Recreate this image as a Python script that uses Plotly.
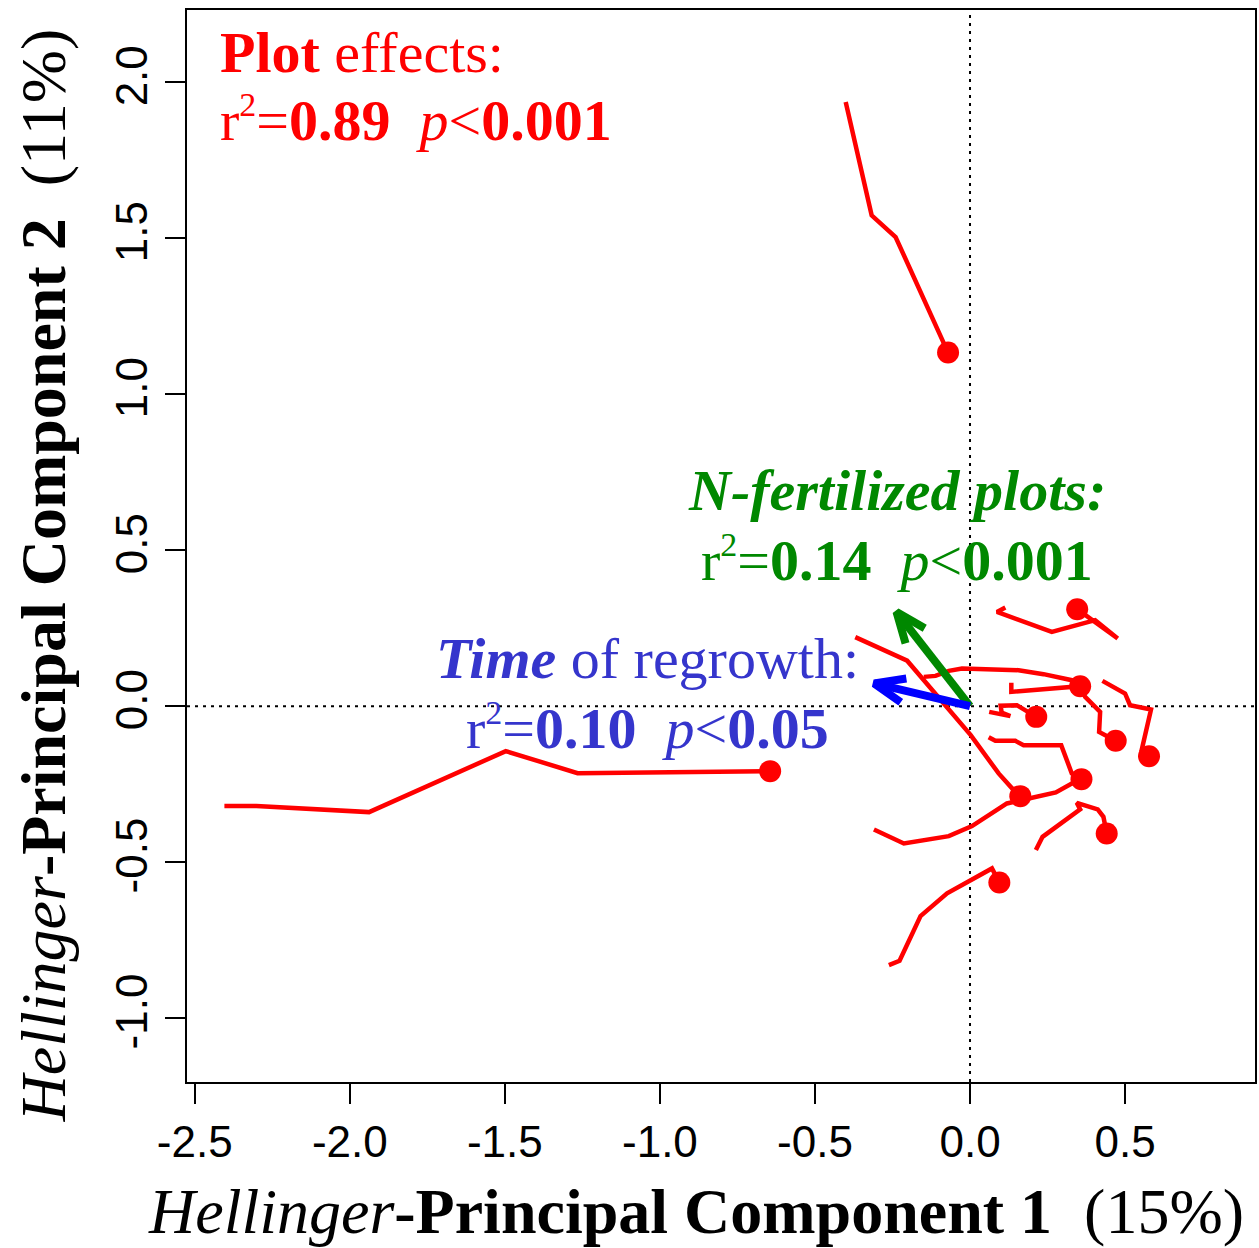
import numpy as np
import plotly.graph_objects as go

# ---- trajectories of plots in PCA space (Hellinger PC1, PC2) ----
plot1_x = [-0.0708, -0.2400, -0.3172, -0.4009]
plot1_y = [1.1337, 1.5042, 1.5737, 1.9369]

plot2_x = [-0.6445, -1.2655, -1.4971, -1.9379, -2.3015, -2.4044]
plot2_y = [-0.2083, -0.2147, -0.1442, -0.3397, -0.3205, -0.3205]

plot3_x = [0.3456, 0.4762, 0.4035, 0.2638, 0.0869, 0.1139]
plot3_y = [0.3109, 0.2170, 0.2756, 0.2381, 0.3022, 0.3163]

plot4_x = [0.3552, 0.3282, 0.2371, 0.1567, -0.0257, -0.0685, -0.1113, -0.1490]
plot4_y = [0.0641, 0.0833, 0.1026, 0.1154, 0.1208, 0.1131, 0.0971, 0.0939]

plot5_x = [0.4698, 0.4408, 0.4163, 0.4196, 0.3713, 0.3552, 0.1332, 0.1332]
plot5_y = [-0.1112, -0.0962, -0.0824, -0.0183, 0.0298, 0.0641, 0.0458, 0.0747]

plot6_x = [0.2136, 0.1512, 0.0988, 0.1020, 0.1300, 0.0618]
plot6_y = [-0.0343, 0.0032, 0.0016, -0.0208, -0.0321, -0.0183]

plot7_x = [0.5772, 0.5534, 0.5837, 0.5161, 0.5000, 0.4270]
plot7_y = [-0.1603, -0.1410, -0.0106, 0.0032, 0.0407, 0.0811]

plot8_x = [0.3594, 0.3282, 0.2941, 0.1728, 0.1461, 0.0817, 0.0602]
plot8_y = [-0.2340, -0.2157, -0.1250, -0.1250, -0.1112, -0.1112, -0.0994]

plot9_x = [0.1622, 0.1406, 0.0923, 0.0023, -0.2027, -0.3700]
plot9_y = [-0.2885, -0.2692, -0.2157, -0.0929, 0.1458, 0.2212]

plot10_x = [0.3594, 0.3282, 0.2767, 0.1889, 0.1190, 0.0064, -0.0685, -0.2133, -0.3098]
plot10_y = [-0.2340, -0.2478, -0.2766, -0.2958, -0.3119, -0.3846, -0.4167, -0.4401, -0.3952]

plot11_x = [0.4408, 0.4302, 0.4118, 0.3443, 0.3552, 0.2339, 0.2124]
plot11_y = [-0.4080, -0.3548, -0.3311, -0.3099, -0.3311, -0.4189, -0.4615]

plot12_x = [0.0946, 0.0708, -0.0740, -0.1596, -0.2272, -0.2616]
plot12_y = [-0.5651, -0.5202, -0.6003, -0.6731, -0.8163, -0.8301]

# final-time plot positions (dots)
dot_x = [-0.0708, -0.6445, 0.3456, 0.3552, 0.2136, 0.4698, 0.5772, 0.3594, 0.1622, 0.4408, 0.0946]
dot_y = [1.1337, -0.2083, 0.3109, 0.0641, -0.0343, -0.1112, -0.1603, -0.2340, -0.2885, -0.4080, -0.5651]

# environmental vectors
time_vec = (-0.309, 0.073)
nfert_vec = (-0.237, 0.302)

x_ticks = [-2.5, -2.0, -1.5, -1.0, -0.5, 0.0, 0.5]
x_ticktext = ["-2.5", "-2.0", "-1.5", "-1.0", "-0.5", "0.0", "0.5"]
y_ticks = [-1.0, -0.5, 0.0, 0.5, 1.0, 1.5, 2.0]
y_ticktext = ["-1.0", "-0.5", "0.0", "0.5", "1.0", "1.5", "2.0"]

RED = "#FF0000"
GREEN = "#008800"
BLUE_ARROW = "#0000FF"
BLUE_TEXT = "#3535CC"

fig = go.Figure()

trajs = [(plot1_x, plot1_y), (plot2_x, plot2_y), (plot3_x, plot3_y), (plot4_x, plot4_y),
         (plot5_x, plot5_y), (plot6_x, plot6_y), (plot7_x, plot7_y), (plot8_x, plot8_y),
         (plot9_x, plot9_y), (plot10_x, plot10_y), (plot11_x, plot11_y), (plot12_x, plot12_y)]
for tx, ty in trajs:
    fig.add_trace(go.Scatter(x=tx, y=ty, mode="lines",
                             line=dict(color=RED, width=4.5), hoverinfo="skip", showlegend=False))

fig.add_trace(go.Scatter(x=dot_x, y=dot_y, mode="markers",
                         marker=dict(color=RED, size=22, line=dict(width=0)),
                         showlegend=False))


def arrow(vx, vy, head=0.105, ang=22.0):
    th = np.arctan2(vy, vx) + np.pi
    a = np.deg2rad(ang)
    w1 = (vx + head * np.cos(th + a), vy + head * np.sin(th + a))
    w2 = (vx + head * np.cos(th - a), vy + head * np.sin(th - a))
    return [0, vx, None, w1[0], vx, w2[0]], [0, vy, None, w1[1], vy, w2[1]]


for vec, col in [(nfert_vec, GREEN), (time_vec, BLUE_ARROW)]:
    ax_, ay_ = arrow(*vec)
    fig.add_trace(go.Scatter(x=ax_, y=ay_, mode="lines",
                             line=dict(color=col, width=8), showlegend=False, hoverinfo="skip"))

# dotted reference lines
fig.add_shape(type="line", xref="paper", yref="y", x0=0, x1=1, y0=0, y1=0,
              line=dict(color="black", width=2, dash="3px,5px"), layer="below")
fig.add_shape(type="line", xref="x", yref="paper", x0=0, x1=0, y0=0, y1=1,
              line=dict(color="black", width=2, dash="3px,5px"), layer="below")

SERIF = "Liberation Serif, Times New Roman, serif"
FS = 58
SUP2 = "<sup><span style='font-size:34px'>2</span></sup>"

ann = []
# Plot effects
ann.append(dict(x=-2.424, y=2.097, xref="x", yref="y", xanchor="left", yanchor="middle",
                text="<b>Plot</b> effects:", showarrow=False,
                font=dict(family=SERIF, size=FS, color=RED)))
ann.append(dict(x=-2.424, y=1.880, xref="x", yref="y", xanchor="left", yanchor="middle",
                text="r" + SUP2 + "=<b>0.89</b>\u00a0\u00a0<i>p</i>&lt;<b>0.001</b>", showarrow=False,
                font=dict(family=SERIF, size=FS, color=RED)))
# N-fertilized
ann.append(dict(x=-0.236, y=0.690, xref="x", yref="y", xanchor="center", yanchor="middle",
                text="<b><i>N-fertilized plots:</i></b>", showarrow=False,
                font=dict(family=SERIF, size=FS, color=GREEN)))
ann.append(dict(x=-0.236, y=0.470, xref="x", yref="y", xanchor="center", yanchor="middle",
                text="r" + SUP2 + "=<b>0.14</b>\u00a0\u00a0<i>p</i>&lt;<b>0.001</b>", showarrow=False,
                font=dict(family=SERIF, size=FS, color=GREEN)))
# Time of regrowth
ann.append(dict(x=-1.040, y=0.152, xref="x", yref="y", xanchor="center", yanchor="middle",
                text="<b><i>Time</i></b> of regrowth:", showarrow=False,
                font=dict(family=SERIF, size=FS, color=BLUE_TEXT)))
ann.append(dict(x=-1.040, y=-0.068, xref="x", yref="y", xanchor="center", yanchor="middle",
                text="r" + SUP2 + "=<b>0.10</b>\u00a0\u00a0<i>p</i>&lt;<b>0.05</b>", showarrow=False,
                font=dict(family=SERIF, size=FS, color=BLUE_TEXT)))
# axis titles
ann.append(dict(x=0.4766, y=-0.121, xref="paper", yref="paper", xanchor="center", yanchor="middle",
                text="<i>Hellinger</i><b>-Principal Component 1</b>\u00a0\u00a0(15%)", showarrow=False,
                font=dict(family=SERIF, size=64, color="black")))
ann.append(dict(x=-0.1335, y=0.473, xref="paper", yref="paper", xanchor="center", yanchor="middle",
                text="<i>Hellinger</i><b>-Principal Component 2</b>\u00a0\u00a0(11%)", showarrow=False,
                textangle=-90, font=dict(family=SERIF, size=64, color="black")))

fig.update_layout(
    width=1259, height=1248,
    margin=dict(l=187, r=2, t=10, b=166),
    paper_bgcolor="white", plot_bgcolor="white",
    annotations=ann,
    showlegend=False,
)
fig.update_xaxes(range=[-2.525, 0.919], tickvals=x_ticks, ticktext=x_ticktext,
                 showgrid=False, zeroline=False, showline=True, mirror=True,
                 linecolor="black", linewidth=2, ticks="outside", ticklen=20, tickwidth=2,
                 tickcolor="black", ticklabelstandoff=0,
                 tickfont=dict(family="Liberation Sans, Arial, sans-serif", size=44, color="black"))
fig.update_yaxes(range=[-1.205, 2.232], tickvals=y_ticks, ticktext=y_ticktext,
                 showgrid=False, zeroline=False, showline=True, mirror=True,
                 linecolor="black", linewidth=2, ticks="outside", ticklen=20, tickwidth=2,
                 tickcolor="black", tickangle=-90, ticklabelstandoff=0,
                 tickfont=dict(family="Liberation Sans, Arial, sans-serif", size=44, color="black"))

fig.write_html("out.html",
               config={"displayModeBar": False},
               post_script="document.body.style.margin='0';document.body.style.padding='0';"
                           "document.body.style.overflow='hidden';"
                           "document.documentElement.style.overflow='hidden';")
